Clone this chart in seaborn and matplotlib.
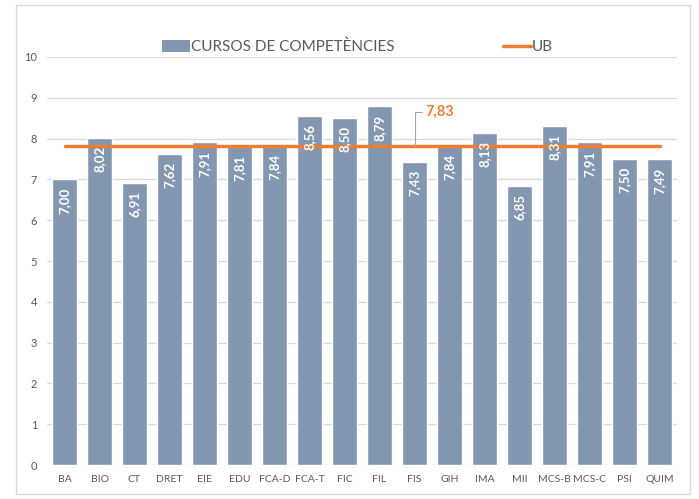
import matplotlib
matplotlib.use("Agg")
import matplotlib.pyplot as plt
import seaborn as sns
import pandas as pd
from matplotlib.patches import Rectangle, Patch
from matplotlib.lines import Line2D

categories = ["BA", "BIO", "CT", "DRET", "EIE", "EDU", "FCA-D", "FCA-T", "FIC", "FIL",
              "FIS", "GIH", "IMA", "MII", "MCS-B", "MCS-C", "PSI", "QUIM"]
values = [7.00, 8.02, 6.91, 7.62, 7.91, 7.81, 7.84, 8.56, 8.50, 8.79,
          7.43, 7.84, 8.13, 6.85, 8.31, 7.91, 7.50, 7.49]
ub_value = 7.83
ub_values = [ub_value] * len(categories)
yticks = list(range(0, 11))

BAR = "#8497B0"
ORANGE = "#ED7D31"
GRID = "#D9D9D9"
TXT = "#595959"

sns.set_theme(style="white")
plt.rcParams["font.family"] = ["Lato", "DejaVu Sans"]

df = pd.DataFrame({"cat": categories, "val": values, "ub": ub_values})

fig = plt.figure(figsize=(6.99, 4.99), dpi=100)
ax = fig.add_axes([47/699, 1-465/499, 630/699, 408/499])

sns.barplot(data=df, x="cat", y="val", color=BAR, width=0.7, saturation=1, ax=ax, zorder=2)
sns.lineplot(x=list(range(len(categories))), y=df["ub"], color=ORANGE, linewidth=2.5, ax=ax, zorder=3)

ax.set_ylim(0, 10)
ax.set_xlim(-0.5, len(categories) - 0.5)
ax.set_yticks(yticks)
ax.set_yticklabels([str(t) for t in yticks])
ax.set_xlabel("")
ax.set_ylabel("")
for y in yticks:
    ax.axhline(y, color=GRID, linewidth=0.9, zorder=0)
for s in ax.spines.values():
    s.set_visible(False)
ax.tick_params(axis="y", length=0, labelsize=8, colors=TXT, pad=7)
ax.tick_params(axis="x", length=0, labelsize=7.5, colors=TXT, pad=7)

for i, v in enumerate(values):
    ax.text(i, v - 0.2, f"{v:.2f}".replace(".", ","), rotation=90, ha="center", va="top",
            color="white", fontsize=9.5, fontweight="bold", zorder=4)

# UB data label with leader line
ax.plot([10.0, 10.0, 10.2], [ub_value, 8.65, 8.65], color="#A6A6A6", linewidth=0.8, zorder=3)
ax.text(10.3, 8.65, "7,83", color=ORANGE, fontsize=10.5, fontweight="bold", ha="left", va="center", zorder=4)

# legend
handles = [Patch(facecolor=BAR, edgecolor="none"),
           Line2D([0], [0], color=ORANGE, linewidth=2.5)]
fig.legend(handles, ["CURSOS DE COMPETÈNCIES", "UB"], loc="center", bbox_to_anchor=(357.5/699, 1-47/499),
           ncol=2, frameon=False, fontsize=11, labelcolor=TXT, handlelength=1.85, handletextpad=0.05,
           columnspacing=7.1, handleheight=0.75)

# outer chart border
fig.patches.append(Rectangle((16/699, 1-494/499), (690-16)/699, (494-5)/499, transform=fig.transFigure,
                             fill=False, edgecolor="#D9D9D9", linewidth=1))

fig.savefig("out.png", dpi=100)
